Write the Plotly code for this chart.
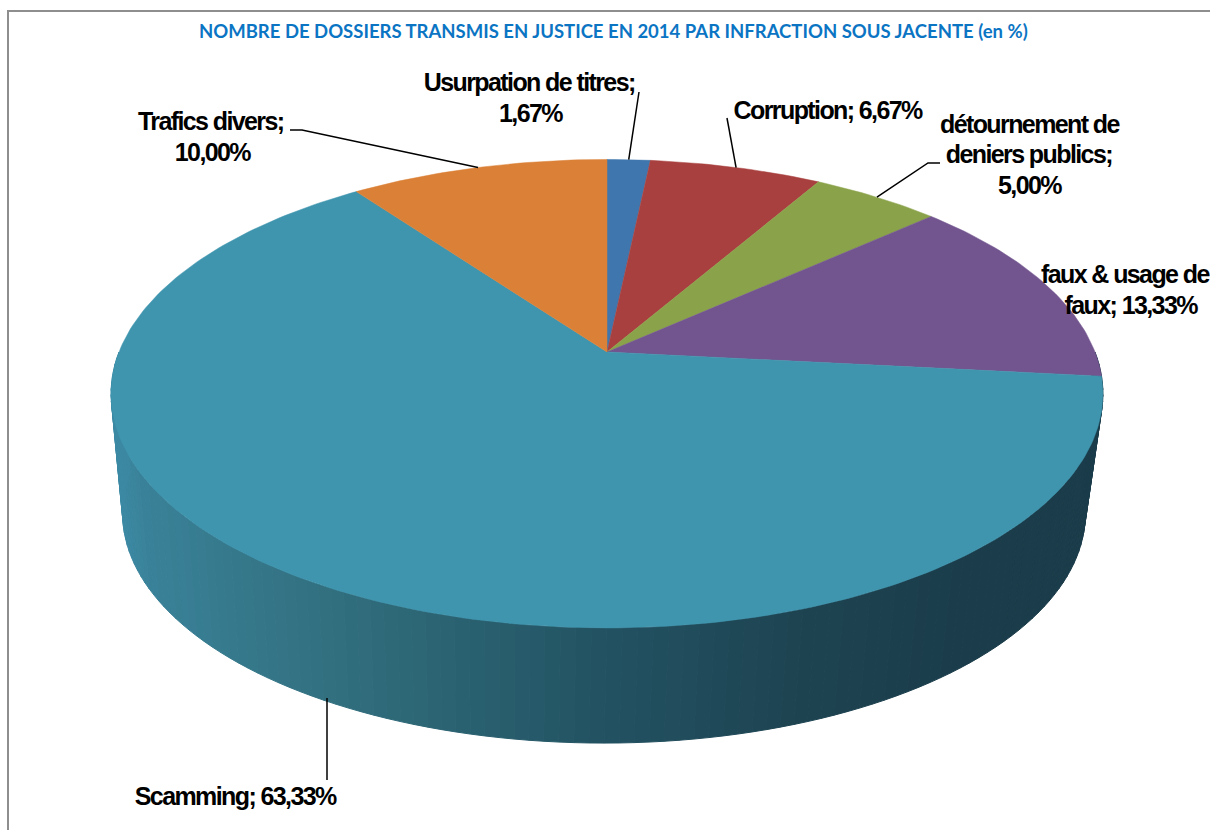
import numpy as np
import plotly.graph_objects as go

# Share of files sent to court in 2014, clockwise from twelve o'clock
categories = ["Usurpation de titres", "Corruption", "détournement de deniers publics",
              "faux & usage de faux", "Scamming", "Trafics divers"]
shares = [1.67, 6.67, 5.00, 13.33, 63.33, 10.00]
slice_colors = ["#3f76ad", "#a8403f", "#8aa34a", "#72558f", "#3f95ae", "#db8137"]

# Label text, one entry per drawn line
label_lines = [["Usurpation de titres;", "1,67%"],
               ["Corruption; 6,67%"],
               ["détournement de", "deniers publics;", "5,00%"],
               ["faux & usage de", "faux; 13,33%"],
               ["Scamming; 63,33%"],
               ["Trafics divers;", "10,00%"]]
label_xy = [[(529, 82), (530, 113)],
            [(827, 110)],
            [(1029, 124), (1029, 154), (1029, 185)],
            [(1125, 274), (1130, 305)],
            [(235, 796)],
            [(211, 121), (212, 152)]]
# Free end of each leader line, with an optional elbow; None where there is no leader
leader_ends = [[(639, 92)], [(727, 118)], [(940, 163), (928, 163)], None, [(327, 780)],
               [(290, 130), (302, 130)]]

TITLE = "NOMBRE DE DOSSIERS TRANSMIS EN JUSTICE EN 2014 PAR INFRACTION SOUS JACENTE (en %)"
PERSPECTIVE = 0.178


def top_face(theta):
    """Tilted disc seen in perspective; theta runs clockwise from the top."""
    u, v = np.sin(theta), np.cos(theta)
    w = 1 + PERSPECTIVE * v
    return 607 + 488 * u / w, 352 - 226.8 * v / w


def bottom_face(theta):
    u, v = np.sin(theta), np.cos(theta)
    w = 1 + PERSPECTIVE * v
    return 604 + 473.6 * u / w, 473 - 222 * v / w


def side_color(x):
    stops_x = [110, 140, 330, 600, 800, 1000, 1100]
    stops_r = [0x3d, 0x3a, 0x32, 0x23, 0x1e, 0x1b, 0x1b]
    stops_g = [0x8a, 0x82, 0x70, 0x53, 0x44, 0x3c, 0x3c]
    stops_b = [0xa5, 0x99, 0x7f, 0x63, 0x52, 0x4a, 0x4a]
    return "rgb(%d,%d,%d)" % (np.interp(x, stops_x, stops_r),
                              np.interp(x, stops_x, stops_g),
                              np.interp(x, stops_x, stops_b))


fig = go.Figure()

# Outer wall: thin quads between the rims, shaded from left to right
wall = np.linspace(np.pi * 0.5, np.pi * 1.5, 121)
for t0, t1 in zip(wall[:-1], wall[1:]):
    x0, y0 = top_face(t0)
    x1, y1 = top_face(t1)
    x2, y2 = bottom_face(t1)
    x3, y3 = bottom_face(t0)
    col = side_color((x0 + x1) / 2)
    fig.add_trace(go.Scatter(x=[x0, x1, x2, x3, x0], y=[y0, y1, y2, y3, y0], mode="lines",
                             fill="toself", fillcolor=col, line=dict(color=col, width=1),
                             hoverinfo="skip", showlegend=False))

# Top face wedges
edges = np.cumsum([0] + shares) / sum(shares) * 2 * np.pi
for name, start, end, col in zip(categories, edges[:-1], edges[1:], slice_colors):
    arc = np.linspace(start, end, max(8, int((end - start) * 60)))
    ax, ay = top_face(arc)
    fig.add_trace(go.Scatter(x=[607, *ax, 607], y=[352, *ay, 352], mode="lines", fill="toself",
                             fillcolor=col, line=dict(color=col, width=0.5),
                             name=name, hoverinfo="name", showlegend=False))

# Leader lines start on the rim at each slice's mid angle
mids = (edges[:-1] + edges[1:]) / 2
for i, ends in enumerate(leader_ends):
    if ends is None:
        continue
    if np.cos(mids[i]) < 0:
        sx = ends[0][0]
        sy = 698
    else:
        sx, sy = top_face(mids[i])
    xs = [p[0] for p in ends] + [sx]
    ys = [p[1] for p in ends] + [sy]
    fig.add_trace(go.Scatter(x=xs, y=ys, mode="lines", line=dict(color="#000000", width=1.5),
                             hoverinfo="skip", showlegend=False))

annotations = [dict(x=613, y=31, text="<b>%s</b>" % TITLE, showarrow=False, xanchor="center",
                    yanchor="middle", font=dict(family="Lato", size=18.5, color="#0b75c4"))]
for lines, spots in zip(label_lines, label_xy):
    for line, (lx, ly) in zip(lines, spots):
        annotations.append(dict(x=lx, y=ly, text="<b>%s</b>" % line, showarrow=False,
                                xanchor="center", yanchor="middle",
                                font=dict(family="Liberation Sans", size=25, color="#000000")))

fig.update_layout(
    width=1210, height=830, margin=dict(l=0, r=0, t=0, b=0),
    paper_bgcolor="#ffffff", plot_bgcolor="#ffffff", showlegend=False,
    xaxis=dict(range=[0, 1210], visible=False, fixedrange=True),
    yaxis=dict(range=[830, 0], visible=False, fixedrange=True),
    annotations=annotations,
    shapes=[dict(type="line", xref="x", yref="y", x0=8, x1=8, y0=830, y1=11,
                 line=dict(color="#8e8e8e", width=2)),
            dict(type="line", xref="x", yref="y", x0=7, x1=1210, y0=11, y1=11,
                 line=dict(color="#8e8e8e", width=2))],
)

# Tighten the tracking of the slice labels; the title (first annotation) keeps its own
tighten_labels = """
var labels = document.querySelectorAll('.annotation-text');
labels.forEach(function (t, i) { if (i > 0) { t.style.letterSpacing = '-1.6px'; } });
"""

fig.write_html("out.html", config=dict(displayModeBar=False), post_script=tighten_labels)
